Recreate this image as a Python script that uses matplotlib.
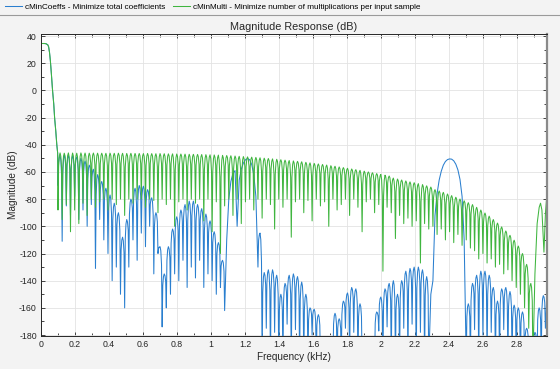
import matplotlib
matplotlib.use('Agg')
import matplotlib.pyplot as plt
from matplotlib.lines import Line2D
from matplotlib.ticker import MultipleLocator

# passband, same for both designs
pass_khz = [0, 0.02, 0.03, 0.04, 0.045, 0.05, 0.055, 0.06, 0.068, 0.075, 0.08, 0.087, 0.093, 0.098]
pass_db = [34.5, 34.5, 34.3, 33.5, 32, 28, 22, 14, 0, -10, -20, -30, -40, -46]

# stopband lobes: first null at lobe_start, one lobe every lobe_step kHz
lobe_start = 0.1
lobe_step = 0.0245
# where inside a lobe the rounded top is drawn, and how far it leans to the null
lobe_pos = [0.15, 0.32, 0.5, 0.68, 0.85]
lobe_lean = [0.22, 0.05, 0.0, 0.05, 0.22]

# cMinMulti (green) - lobe peaks and nulls
green_peak_db = [
    -46.0, -46.2, -46.0, -46.1, -46.2, -46.0, -46.1, -46.2, -46.1, -46.2,
    -46.2, -46.3, -46.2, -46.3, -46.2, -46.3, -46.4, -46.3, -46.4, -46.4,
    -46.5, -46.4, -46.5, -46.6, -46.5, -46.6, -46.7, -46.7, -46.8, -46.8,
    -46.9, -47.0, -47.0, -47.1, -47.2, -47.3, -47.4, -47.5, -47.6, -47.8,
    -47.9, -48.1, -48.3, -48.5, -48.7, -48.9, -49.1, -49.3, -49.6, -49.9,
    -50.1, -50.4, -50.7, -51.0, -51.3, -51.6, -51.9, -52.2, -52.5, -52.9,
    -53.3, -53.7, -54.1, -54.5, -54.9, -55.4, -55.8, -56.3, -56.8, -57.3,
    -57.8, -58.3, -58.8, -59.4, -60.0, -60.6, -61.2, -61.8, -62.4, -63.0,
    -64.5, -65.2, -65.9, -66.6, -67.3, -67.9, -68.6, -69.3, -70.2, -71.1,
    -73.0, -74.0, -75.0, -76.2, -77.4, -78.6, -79.9, -81.2, -82.6, -84.0,
    -86.0, -88.0, -90.2, -92.5, -95.0, -97.6, -100.4, -103.4, -106.6, -110.2,
    -114.5, -120, -128, -142]
green_null_db = [
    -88, -95, -84, -104, -88, -98, -83, -92, -80, -86,
    -82, -80, -88, -80, -84, -80, -92, -80, -83, -80,
    -80, -86, -80, -81, -90, -80, -84, -80, -100, -82,
    -80, -88, -80, -83, -80, -96, -80, -104, -82, -120,
    -85, -80, -92, -80, -98, -82, -80, -88, -80, -94,
    -80, -84, -102, -80, -86, -80, -108, -82, -80, -90,
    -81, -96, -80, -85, -82, -100, -80, -88, -84, -80,
    -92, -80, -86, -104, -82, -80, -90, -84, -133, -86,
    -90, -109, -92, -98, -94, -100, -96, -127, -98, -102,
    -100, -106, -102, -110, -104, -112, -106, -114, -110, -116,
    -118, -124, -120, -127, -124, -130, -128, -135, -132, -140,
    -145, -150, -160, -175, -200]
green_tail_khz = [2.905, 2.918, 2.930, 2.938, 2.946, 2.958, 2.967, 2.976]
green_tail_db = [-135, -98, -86, -83, -88, -119, -90, -75.5]

# cMinCoeffs (blue)
blue_peak_db = [
    -48.0, -47.6, -48.0, -48.5, -49.0, -50.0, -52.0, -55.0, -58.0, -62.0,
    -67, -72, -77, -83, -90, -108, -95, -80, -72, -70,
    -70.5, -73, -79, -90, -115, -135, -115, -102, -93, -88,
    -84, -81.5, -81.5, -84, -87, -91, -96, -104, -112, -125,
    -110, -67, -59, -66, -53.5, -50.2, -54.5, -78, -105, -134,
    -132, -132, -136, -150, -142, -136, -135, -137, -141, -150,
    -160, -161, -165, -185, -200, -190, -164, -168, -155, -149,
    -145, -146, -157, -190, -200, -185, -163, -152, -146, -142,
    -140, -150, -140, -133, -131, -130, -130, -132, -137, -150,
    -92, -66, -55, -50.9, -50.6, -54.3, -65.5, -110, -157, -142,
    -136, -133, -133, -136, -145, -155, -146, -145, -148, -158,
    -160, -163, -175, -190, -178, -160, -151]
blue_null_db = [
    -70, -111, -85, -92, -78, -95, -88, -100, -84, -131,
    -95, -110, -120, -140, -130, -150, -160, -130, -110, -125,
    -105, -115, -100, -135, -120, -174, -160, -150, -135, -140,
    -125, -145, -130, -138, -125, -145, -135, -140, -150, -145,
    -162, -80, -61, -100, -58, -51, -51, -62, -130, -200,
    -175, -200, -178, -200, -200, -172, -200, -176, -200, -200,
    -200, -180, -200, -200, -200, -200, -200, -200, -200, -175,
    -200, -178, -200, -200, -200, -200, -200, -177, -200, -174,
    -200, -200, -200, -175, -200, -172, -200, -178, -200, -200,
    -140, -76, -59.5, -52.3, -50.4, -51.8, -58.5, -78, -200, -200,
    -176, -200, -180, -200, -178, -200, -200, -176, -200, -200,
    -200, -200, -200, -200, -200, -200, -200, -175]
blue_tail_khz = [2.976]
blue_tail_db = [-149]

x_ticks = [0, 0.2, 0.4, 0.6, 0.8, 1, 1.2, 1.4, 1.6, 1.8, 2, 2.2, 2.4, 2.6, 2.8]
x_labels = ['0', '0.2', '0.4', '0.6', '0.8', '1', '1.2', '1.4', '1.6', '1.8', '2', '2.2', '2.4', '2.6', '2.8']
y_ticks = [40, 20, 0, -20, -40, -60, -80, -100, -120, -140, -160, -180]


def build_curve(peaks, nulls, tail_f, tail_db):
    f = list(pass_khz)
    db = list(pass_db)
    for i, p in enumerate(peaks):
        f.append(lobe_start + i * lobe_step)
        db.append(nulls[i])
        if p > max(nulls[i], nulls[i + 1]) + 3:
            # a real lobe: rounded top between two nulls
            for pos, lean in zip(lobe_pos, lobe_lean):
                n = nulls[i] if pos < 0.5 else nulls[i + 1]
                f.append(lobe_start + (i + pos) * lobe_step)
                db.append(p + lean * (n - p))
        else:
            # smooth arch, just pass through the read value
            f.append(lobe_start + (i + 0.5) * lobe_step)
            db.append(p)
    f.append(lobe_start + len(peaks) * lobe_step)
    db.append(nulls[len(peaks)])
    return f + tail_f, db + tail_db


plt.rcParams['font.family'] = ['Liberation Sans', 'DejaVu Sans']
plt.rcParams['axes.unicode_minus'] = False
bg = '#f3f3f3'
fig = plt.figure(figsize=(5.6, 3.69), dpi=100, facecolor=bg)
ax = fig.add_axes([0.0732, 0.0894, 0.9036, 0.8185])

bf, bdb = build_curve(blue_peak_db, blue_null_db, blue_tail_khz, blue_tail_db)
gf, gdb = build_curve(green_peak_db, green_null_db, green_tail_khz, green_tail_db)
l1, = ax.plot(bf, bdb, color='#2a7fcf', lw=0.75)
l2, = ax.plot(gf, gdb, color='#3fb53f', lw=0.75)

ax.set_xlim(0, 2.976)
ax.set_ylim(-180.7, 41.5)
ax.set_xticks(x_ticks)
ax.set_xticklabels(x_labels)
ax.set_yticks(y_ticks)
ax.xaxis.set_minor_locator(MultipleLocator(0.1))
ax.yaxis.set_minor_locator(MultipleLocator(10))
ax.tick_params(which='both', direction='in', top=True, right=True, labelsize=6.3,
               colors='#262626', width=0.6)
ax.tick_params(which='major', length=3, pad=3)
ax.tick_params(which='minor', length=2)
ax.grid(True, which='major', color='#e3e3e3', lw=0.6)
ax.set_axisbelow(True)
for s in ax.spines.values():
    s.set_color('#262626')
    s.set_linewidth(0.7)
ax.spines['right'].set_color('#8a8a8a')
ax.spines['right'].set_linewidth(1.6)

ax.set_title('Magnitude Response (dB)', fontsize=7.8, color='#262626', pad=3)
ax.set_xlabel('Frequency (kHz)', fontsize=7.2, color='#262626', labelpad=2)
ax.set_ylabel('Magnitude (dB)', fontsize=7.2, color='#262626', labelpad=1)

fig.legend([l1, l2], ['cMinCoeffs - Minimize total coefficients',
                      'cMinMulti - Minimize number of multiplications per input sample'],
           loc='upper left', bbox_to_anchor=(-0.004, 1.012), ncol=2, frameon=False,
           fontsize=5.9, handlelength=2.1, handletextpad=0.3, columnspacing=1.0)
fig.add_artist(Line2D([0, 1], [0.959, 0.959], color='#9a9a9a', lw=0.8))

fig.savefig('out.png', dpi=100, facecolor=bg)
